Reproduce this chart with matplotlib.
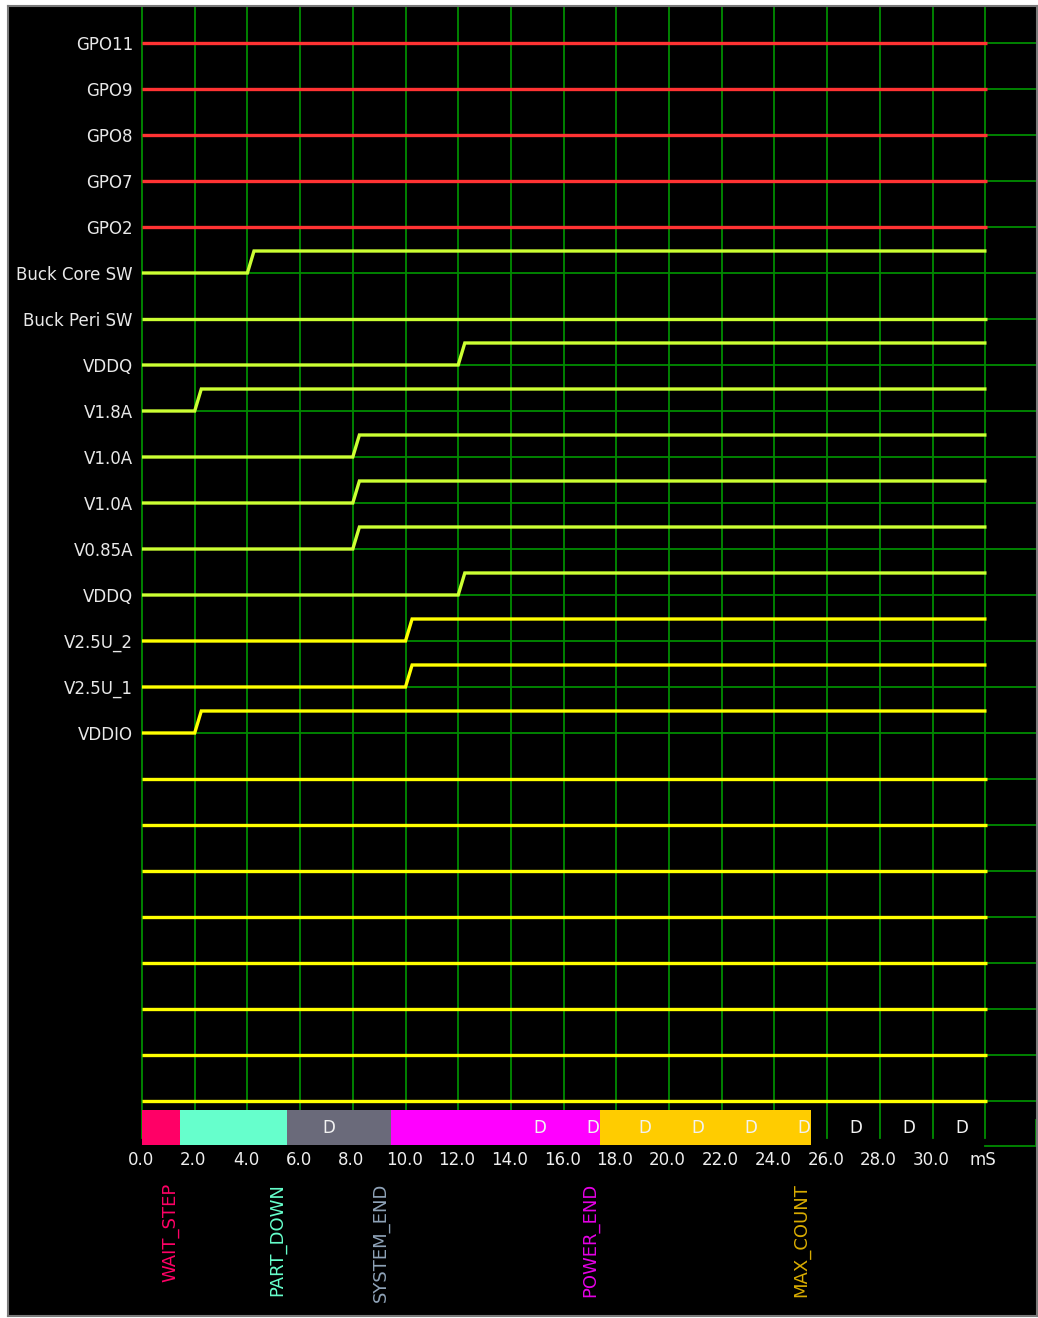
import matplotlib.pyplot as plt

# signal rows (top to bottom)
labels = ["GPO11", "GPO9", "GPO8", "GPO7", "GPO2", "Buck Core SW", "Buck Peri SW",
          "VDDQ", "V1.8A", "V1.0A", "V1.0A", "V0.85A", "VDDQ", "V2.5U_2", "V2.5U_1",
          "VDDIO", "", "", "", "", "", "", "", ""]
# rise time in ms (None = stays low)
rise_ms = [None, None, None, None, None, 4.0, None, 12.0, 2.0, 8.0, 8.0, 8.0, 12.0,
           10.0, 10.0, 2.0, None, None, None, None, None, None, None, None]
groups = ["gpo"] * 5 + ["rail"] * 8 + ["io"] * 11

# state bar
states = ["WAIT_STEP", "PART_DOWN", "SYSTEM_END", "POWER_END", "MAX_COUNT"]
state_start = [0.0, 1.45, 5.5, 9.45, 17.4]
state_end = [1.45, 5.5, 9.45, 17.4, 25.4]
state_colors = ["#ff0066", "#66ffcc", "#6a6a7a", "#ff00ff", "#ffcc00"]
label_colors = ["#ff0066", "#66ffcc", "#8fa3b8", "#e600e6", "#d9ac00"]
d_marks = [7.1, 15.1, 17.1, 19.1, 21.1, 23.1, 25.1, 27.1, 29.1, 31.1]

ticks = [0.0, 2.0, 4.0, 6.0, 8.0, 10.0, 12.0, 14.0, 16.0, 18.0, 20.0, 22.0, 24.0,
         26.0, 28.0, 30.0]
t_end = 32.0

line_col = {"gpo": "#ff3333", "rail": "#ccff33", "io": "#ffff00"}
grid_col = "#008c00"

# pixel mapping helpers
X0, PXMS = 142.0, 26.35
Y0, ROWH = 43.0, 46.0
W, H = 1038, 1318
HIGH = -22.0 / ROWH

def tx(px):
    return (px - X0) / PXMS

def ry(py):
    return (py - Y0) / ROWH

fig = plt.figure(figsize=(W / 100, H / 100), dpi=100, facecolor="white")
ax = fig.add_axes([8 / W, (H - 1316) / H, (1037 - 8) / W, (1316 - 6) / H])
ax.set_facecolor("black")
ax.set_xlim(tx(8), tx(1037))
ax.set_ylim(ry(1316), ry(6))
ax.set_xticks([])
ax.set_yticks([])
for s in ax.spines.values():
    s.set_color("#7a7a7a")
    s.set_linewidth(1.5)

# grid
for t in ticks + [t_end]:
    ax.plot([t, t], [ry(6), ry(1138)], color=grid_col, lw=1.3, zorder=1)
for i in range(len(labels)):
    ax.plot([0, tx(1037)], [i, i], color=grid_col, lw=1.3, zorder=1)
ax.plot([t_end, tx(1037)], [ry(1146), ry(1146)], color=grid_col, lw=1.3, zorder=1)
ax.plot([tx(1036), tx(1036)], [ry(1120), ry(1146)], color=grid_col, lw=1.3, zorder=1)

# signals
for i, (name, r, g) in enumerate(zip(labels, rise_ms, groups)):
    if r is None:
        xs, ys = [0, t_end + 0.05], [i, i]
    else:
        xs = [0, r, r + 0.25, t_end + 0.05]
        ys = [i, i, i + HIGH, i + HIGH]
    ax.plot(xs, ys, color=line_col[g], lw=2.4, zorder=3, solid_capstyle="butt",
            solid_joinstyle="miter")
    if name:
        ax.text(tx(133), i + 0.04, name, color="#e8e8e8", fontsize=12,
                ha="right", va="center", zorder=4)

# state bar
bar_y = ry(1127.5)
ax.barh(bar_y, [e - s for s, e in zip(state_start, state_end)], left=state_start,
        height=35 / ROWH, color=state_colors, zorder=5)
for d in d_marks:
    ax.text(d, bar_y + 0.02, "D", color="#f2f2f2", fontsize=12, ha="center",
            va="center", zorder=6)

# time axis labels
for t in ticks:
    ax.text(t - 0.05, ry(1160), f"{t:.1f}", color="#eeeeee", fontsize=12,
            ha="center", va="center")
ax.text(t_end - 0.1, ry(1160), "mS", color="#eeeeee", fontsize=12, ha="center",
        va="center")

# state names below
for name, e, c in zip(states, state_end, label_colors):
    ax.text(e - 0.38, ry(1183), name, color=c, fontsize=13, rotation=90,
            ha="center", va="top")

fig.savefig("out.png", dpi=100, facecolor="white")
